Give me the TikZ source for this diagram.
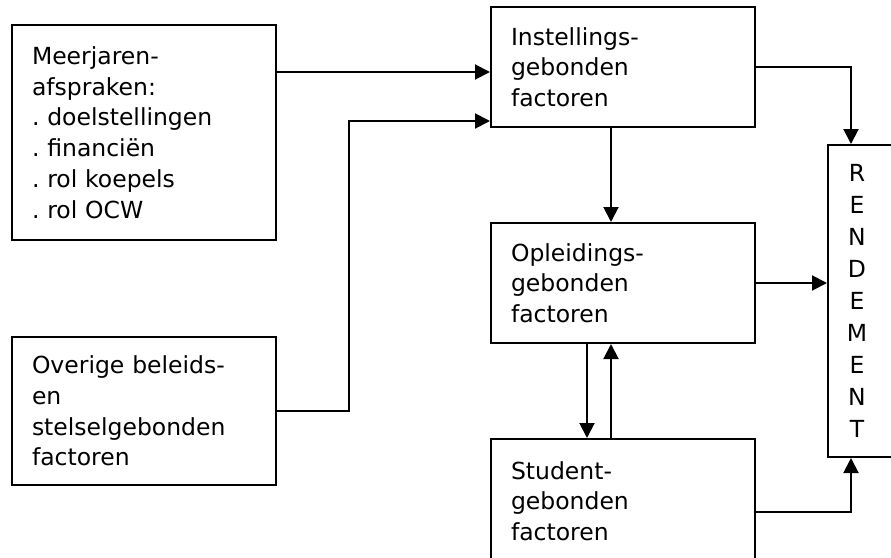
\documentclass[tikz,border=0pt]{standalone}
\usepackage{fontspec}
\setmainfont{DejaVu Sans}
\usetikzlibrary{arrows.meta}
\frenchspacing

\begin{document}
\begin{tikzpicture}[x=1pt, y=-1pt,
  box/.style={draw, line width=2pt, align=left, inner xsep=20pt, inner ysep=0pt,
    text width=224pt, minimum width=264pt,
    font=\fontsize{23.5pt}{30.7pt}\selectfont},
  column/.style={draw, line width=2pt, minimum width=80pt, minimum height=312pt},
  letters/.style={align=center, font=\fontsize{23.5pt}{32pt}\selectfont},
  flow/.style={-{Triangle[length=15pt, width=15pt]}, line width=2pt}
]
\useasboundingbox (0,0) rectangle (891,557);
\clip (0,0) rectangle (891,557);

\node[box, minimum height=215pt] (meer) at (144,132.5) {Meerjaren-\\afspraken:\\. doelstellingen\\. financiën\\. rol koepels\\. rol OCW};
\node[box, minimum height=148pt] (overig) at (144,411) {Overige beleids-\\en\\stelselgebonden\\factoren};
\node[box, minimum height=120pt] (inst) at (623,67) {Instellings-\\gebonden\\factoren};
\node[box, minimum height=120pt] (opl) at (623,283) {Opleidings-\\gebonden\\factoren};
\node[box, minimum height=124pt] (stud) at (623,501) {Student-\\gebonden\\factoren};
\node[column, label={[letters, xshift=-11pt]center:{R\\E\\N\\D\\E\\M\\E\\N\\T}}] (rend) at (868,301) {};

\coordinate (instin) at ([yshift=-5pt]inst.west);
\draw[flow] (meer.east |- instin) -- (instin);
\draw[flow] (overig.east) -- ++(72,0) |- ([yshift=7pt]inst.south west);

\draw[flow] ([xshift=-12pt]inst.south) -- ([xshift=-12pt]opl.north);
\draw[flow] ([xshift=-36pt]opl.south) -- ([xshift=-36pt]stud.north);
\draw[flow] ([xshift=-12pt]stud.north) -- ([xshift=-12pt]opl.south);

\draw[flow] (inst.east) -| ([xshift=24pt]rend.north west);
\draw[flow] (opl.east) -- (opl.east -| rend.west);
\draw[flow] ([yshift=-11pt]stud.east) -| ([xshift=24pt]rend.south west);
\end{tikzpicture}
\end{document}
